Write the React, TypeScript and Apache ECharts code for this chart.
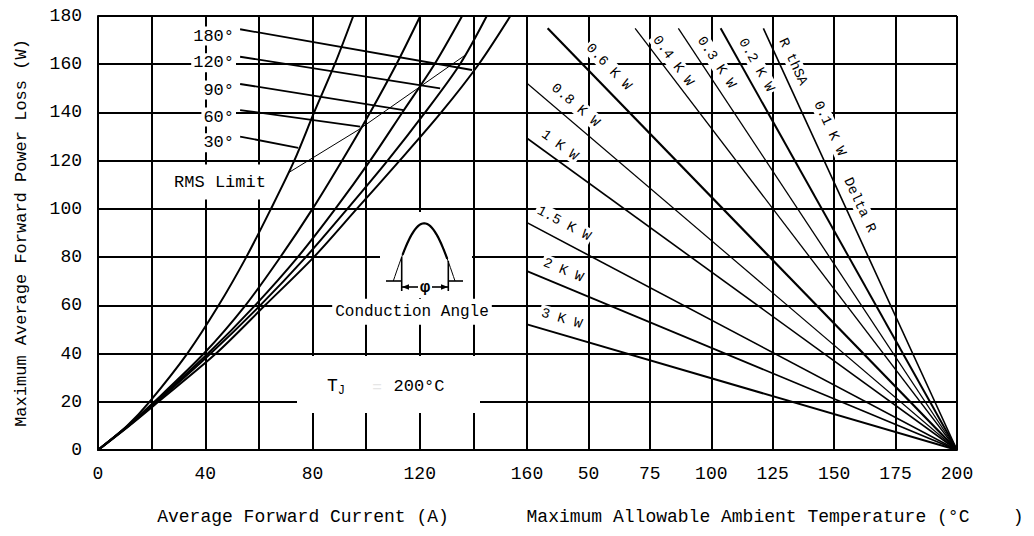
import React, { useEffect, useRef } from 'react';
import * as echarts from 'echarts';

const FONT = '"Liberation Mono", "DejaVu Sans Mono", monospace';

// ---- Left panel: power loss vs average forward current ----
const powerLevels = [0, 10, 20, 40, 60, 80, 100, 120, 140, 160, 180];
const angleNames = ['30°', '60°', '90°', '120°', '180°'];
const current30 = [0, 10.8, 19.2, 33.3, 45, 55.3, 64.5, 73.2, 80.6, 88.3, 95.2];
const current60 = [0, 11, 21, 39.5, 55, 68, 80, 91, 101.5, 111.3, 120.2];
const current90 = [0, 11.2, 21.5, 41, 58.6, 74.5, 88.5, 101.5, 113.5, 125.5, 135.8];
const current120 = [0, 11.4, 22, 42, 60.5, 77.5, 93, 108, 122, 135, 145];
const current180 = [0, 11.6, 22.5, 44, 62.3, 80.5, 96.5, 112.5, 128, 142, 153.8];
const angleCurrents = [current30, current60, current90, current120, current180];

const rmsCurrent = [70.9, 97, 137];
const rmsPower = [114.9, 132.7, 163.8];

const leaderStartCurrent = 53;
const leaderStartPower = [130, 141, 151.8, 163.1, 174.5];
const leaderEndCurrent = [74.7, 97.8, 114, 127.6, 139.5];
const leaderEndPower = [125.3, 134.1, 141, 150, 157.6];

// ---- Right panel: heat-sink thermal resistance lines ----
const sinkNames = ['3 K W', '2 K W', '1.5 K W', '1 K W', '0.8 K W', '0.6 K W', '0.4 K W', '0.3 K W', '0.2 K W', '0.1 K W'];
const sinkStartTemp = [25, 25, 25, 25, 25, 33.4, 69, 86.6, 103.8, 121.2];
const sinkStartPower = [52.1, 74.2, 94.3, 129.3, 152.1, 174.9, 174.9, 174.9, 174.9, 174.9];
const sinkEndTemp = 200;
const sinkEndPower = 0;
const sinkWidths = [2, 1.8, 1.6, 1.6, 1.2, 2.2, 1.3, 1.3, 2, 1.6];

const yMin = 0, yMax = 180, yStep = 20;
const leftMin = 0, leftMax = 160, leftStep = 20, leftLabelStep = 40;
const rightMin = 25, rightMax = 200, rightStep = 25;

function buildOption(): any {
  const black = '#000';
  const series: any[] = [];
  angleCurrents.forEach((cur, k) => {
    series.push({
      name: angleNames[k], type: 'line', xAxisIndex: 0, yAxisIndex: 0,
      data: powerLevels.map((p, i) => [cur[i], p]),
      smooth: 0.3, showSymbol: false, silent: true,
      lineStyle: { color: black, width: 2 }, z: 3,
    });
  });
  series.push({
    name: 'RMS Limit', type: 'line', xAxisIndex: 0, yAxisIndex: 0,
    data: rmsCurrent.map((c, i) => [c, rmsPower[i]]),
    showSymbol: false, silent: true, lineStyle: { color: black, width: 1 }, z: 3,
  });
  leaderEndCurrent.forEach((c, i) => {
    series.push({
      type: 'line', xAxisIndex: 0, yAxisIndex: 0,
      data: [[leaderStartCurrent, leaderStartPower[i]], [c, leaderEndPower[i]]],
      showSymbol: false, silent: true, lineStyle: { color: black, width: 1.8 }, z: 3,
    });
  });
  sinkNames.forEach((n, i) => {
    series.push({
      name: n, type: 'line', xAxisIndex: 1, yAxisIndex: 1,
      data: [[sinkStartTemp[i], sinkStartPower[i]], [sinkEndTemp, sinkEndPower]],
      showSymbol: false, silent: true, lineStyle: { color: black, width: sinkWidths[i] }, z: 3,
    });
  });

  const axisLine = { show: true, lineStyle: { color: black, width: 2 } };
  const splitLine = { show: true, lineStyle: { color: black, width: 2 } };
  const labelStyle = { color: black, fontFamily: FONT, fontSize: 18 };

  // ---- annotations ----
  const g: any[] = [];
  const Z = 100;
  const degY = [142.7, 117, 90, 62.7, 36];
  angleNames.forEach((n, i) => {
    g.push({ type: 'text', z: Z, x: 236, y: degY[i], style: { text: n, fontFamily: FONT, fontSize: 17, fill: black, align: 'right', verticalAlign: 'middle', backgroundColor: '#fff', padding: [1, 2] } });
  });
  g.push({ type: 'text', z: Z, x: 220, y: 182, style: { text: 'RMS Limit', fontFamily: FONT, fontSize: 17, fill: black, align: 'center', verticalAlign: 'middle', backgroundColor: '#fff', padding: [9, 4] } });

  // conduction angle inset
  g.push({ type: 'rect', z: Z, shape: { x: 380, y: 212, width: 92, height: 86 }, style: { fill: '#fff' } });
  const sx0 = 393.3, sw = 61.7, sBase = 281, sH = 57.7;
  const full: number[][] = [];
  const thick: number[][] = [];
  for (let i = 0; i <= 40; i++) {
    const t = i / 40;
    const p = [sx0 + sw * t, sBase - sH * Math.sin(Math.PI * t)];
    full.push(p);
    if (t >= 0.137 && t <= 0.89) thick.push(p);
  }
  g.push({ type: 'polyline', z: Z + 1, shape: { points: full }, style: { stroke: black, lineWidth: 1, fill: null } });
  g.push({ type: 'polyline', z: Z + 1, shape: { points: thick }, style: { stroke: black, lineWidth: 2.2, fill: null } });
  g.push({ type: 'line', z: Z + 1, shape: { x1: 401.7, y1: 257, x2: 401.7, y2: 291 }, style: { stroke: black, lineWidth: 1.6 } });
  g.push({ type: 'line', z: Z + 1, shape: { x1: 448.3, y1: 261, x2: 448.3, y2: 291 }, style: { stroke: black, lineWidth: 1.6 } });
  g.push({ type: 'line', z: Z + 1, shape: { x1: 386, y1: 281, x2: 401.7, y2: 281 }, style: { stroke: black, lineWidth: 1.6 } });
  g.push({ type: 'line', z: Z + 1, shape: { x1: 448.3, y1: 281, x2: 463, y2: 281 }, style: { stroke: black, lineWidth: 1.6 } });
  g.push({ type: 'line', z: Z + 1, shape: { x1: 402, y1: 287, x2: 418, y2: 287 }, style: { stroke: black, lineWidth: 1.6 } });
  g.push({ type: 'line', z: Z + 1, shape: { x1: 432, y1: 287, x2: 448, y2: 287 }, style: { stroke: black, lineWidth: 1.6 } });
  g.push({ type: 'polygon', z: Z + 1, shape: { points: [[402, 287], [409, 284.3], [409, 289.7]] }, style: { fill: black } });
  g.push({ type: 'polygon', z: Z + 1, shape: { points: [[448, 287], [441, 284.3], [441, 289.7]] }, style: { fill: black } });
  g.push({ type: 'text', z: Z + 1, x: 425, y: 287, style: { text: 'φ', fontFamily: FONT, fontSize: 17, fontWeight: 'bold', fill: black, align: 'center', verticalAlign: 'middle' } });
  g.push({ type: 'text', z: Z, x: 412, y: 311.7, style: { text: 'Conduction Angle', fontFamily: FONT, fontSize: 16, fill: black, align: 'center', verticalAlign: 'middle', backgroundColor: '#fff', padding: [5, 3] } });

  // junction temperature box
  g.push({ type: 'rect', z: Z, shape: { x: 297, y: 356, width: 183, height: 57 }, style: { fill: '#fff' } });
  g.push({ type: 'text', z: Z + 1, x: 336, y: 386, style: { text: '{t|T}{s|J}', fill: black, align: 'center', verticalAlign: 'middle', rich: { t: { fontFamily: FONT, fontSize: 18, fill: black }, s: { fontFamily: FONT, fontSize: 12, fill: black, padding: [10, 0, 0, 0] } } } });
  g.push({ type: 'text', z: Z + 1, x: 377, y: 388, style: { text: '=', fontFamily: FONT, fontSize: 16, fill: '#e6e6e6', align: 'center', verticalAlign: 'middle' } });
  g.push({ type: 'text', z: Z + 1, x: 419, y: 386, style: { text: '200°C', fontFamily: FONT, fontSize: 17, fill: black, align: 'center', verticalAlign: 'middle' } });

  // right panel rotated labels
  const rl: [string, number, number, number][] = [
    ['0.6 K W', 609, 66.7, 46],
    ['0.4 K W', 673.3, 60.7, 53],
    ['0.3 K W', 716.7, 62.3, 56.5],
    ['0.2 K W', 756.7, 65, 60.7],
    ['R thSA', 793.3, 61.7, 65],
    ['0.1 K W', 830, 128.3, 65],
    ['Delta R', 860, 205, 65],
    ['0.8 K W', 575.7, 105, 40.5],
    ['1 K W', 560, 145, 36],
    ['1.5 K W', 564, 223.3, 28],
    ['2 K W', 563.3, 270, 22.7],
    ['3 K W', 561.7, 318.3, 16.3],
  ];
  rl.forEach(([t, x, y, a]) => {
    g.push({ type: 'text', z: Z, x, y, rotation: -a * Math.PI / 180, style: { text: t, fontFamily: FONT, fontSize: 14, fill: black, align: 'center', verticalAlign: 'middle', backgroundColor: '#fff', padding: [1, 2] } });
  });

  return {
    animation: false,
    backgroundColor: '#fff',
    grid: [
      { left: 98, top: 16, width: 429, bottom: 86 },
      { left: 527, top: 16, width: 430, bottom: 86 },
    ],
    xAxis: [
      {
        type: 'value', gridIndex: 0, min: leftMin, max: leftMax, interval: leftStep,
        axisLine, splitLine, axisTick: { show: false },
        axisLabel: { ...labelStyle, margin: 15, formatter: (v: number) => (v % leftLabelStep === 0 ? String(v) : '') },
        name: 'Average Forward Current (A)', nameLocation: 'middle', nameGap: 58,
        nameTextStyle: { color: black, fontFamily: FONT, fontSize: 18, padding: [0, 19, 0, 0] },
      },
      {
        type: 'value', gridIndex: 1, min: rightMin, max: rightMax, interval: rightStep,
        axisLine, splitLine, axisTick: { show: false },
        axisLabel: { ...labelStyle, margin: 15, formatter: (v: number) => (v === rightMin ? '' : String(v)) },
        name: 'Maximum Allowable Ambient Temperature (°C    )', nameLocation: 'middle', nameGap: 58,
        nameTextStyle: { color: black, fontFamily: FONT, fontSize: 18, padding: [0, 0, 0, 66] },
      },
    ],
    yAxis: [
      {
        type: 'value', gridIndex: 0, min: yMin, max: yMax, interval: yStep,
        axisLine, splitLine, axisTick: { show: false },
        axisLabel: { ...labelStyle, margin: 16 },
        name: 'Maximum Average Forward Power Loss (W)', nameLocation: 'middle', nameGap: 68,
        nameTextStyle: { color: black, fontFamily: FONT, fontSize: 17 },
      },
      {
        type: 'value', gridIndex: 1, min: yMin, max: yMax, interval: yStep,
        axisLine, splitLine, axisTick: { show: false }, axisLabel: { show: false },
      },
    ],
    series,
    graphic: g,
  };
}

export default function App() {
  const ref = useRef<HTMLDivElement>(null);
  useEffect(() => {
    const chart = echarts.init(ref.current!, null, { renderer: 'svg' });
    chart.setOption(buildOption());
    return () => chart.dispose();
  }, []);
  return (
    <div
      ref={ref}
      style={{ position: 'fixed', left: 0, top: 0, width: 1034, height: 536, background: '#fff' }}
    />
  );
}
